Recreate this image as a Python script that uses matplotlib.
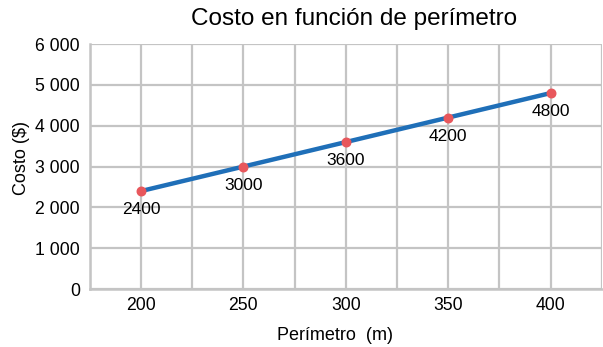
import numpy as np
import matplotlib.pyplot as plt
from matplotlib.ticker import FuncFormatter, MultipleLocator

perimetro = [200, 250, 300, 350, 400]
costo = [2400, 3000, 3600, 4200, 4800]
etiquetas = ["2400", "3000", "3600", "4200", "4800"]

plt.rcParams['font.family'] = ['Liberation Sans', 'DejaVu Sans']

fig = plt.figure(figsize=(6.03, 3.47), dpi=100)
ax = fig.add_axes([0.149, 0.167, 0.849, 0.706])

grid_col = '#c4c4c4'
ax.set_xlim(175, 425)
ax.set_ylim(0, 6000)
ax.xaxis.set_major_locator(MultipleLocator(50))
ax.xaxis.set_minor_locator(MultipleLocator(25))
ax.yaxis.set_major_locator(MultipleLocator(1000))
ax.yaxis.set_major_formatter(FuncFormatter(lambda v, p: f"{v:,.0f}".replace(",", " ")))
ax.grid(which='both', color=grid_col, linewidth=1.6)
ax.set_axisbelow(True)
for s in ['top', 'right']:
    ax.spines[s].set_visible(False)
for s in ['left', 'bottom']:
    ax.spines[s].set_color(grid_col)
    ax.spines[s].set_linewidth(1.8)
ax.tick_params(which='both', length=0)
ax.tick_params(axis='y', labelsize=12.7, pad=7)
ax.tick_params(axis='x', labelsize=12.7, pad=6)

ax.plot(perimetro, costo, color='#1f6fb8', linewidth=3.2, zorder=3, solid_capstyle='round')
ax.scatter(perimetro, costo, s=38, color='#e8575c', zorder=4)
for x, y, t in zip(perimetro, costo, etiquetas):
    ax.annotate(t, (x, y), xytext=(0, -13.5), textcoords='offset points',
                ha='center', va='center', fontsize=12.5)

fig.text(354 / 603, 1 - 19 / 347, "Costo en función de perímetro", ha='center', va='center', fontsize=17.5)
fig.text(21 / 603, 1 - 158 / 347, "Costo ($)", rotation=90, ha='center', va='center', fontsize=13)
fig.text(335 / 603, 1 - 335 / 347, "Perímetro  (m)", ha='center', va='center', fontsize=13)

fig.savefig("out.png", dpi=100)
